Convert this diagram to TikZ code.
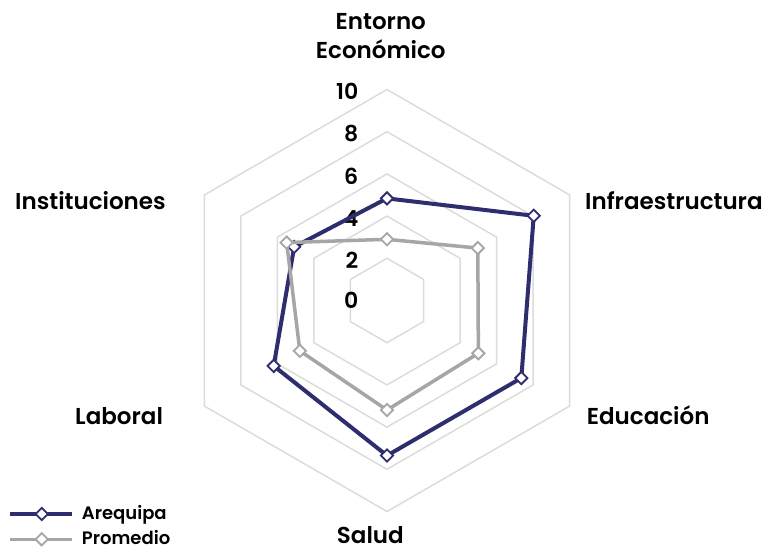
\documentclass[tikz,border=0pt]{standalone}
\usepackage{fontspec}
\setmainfont{Poppins}[BoldFont={Poppins SemiBold}]
\usetikzlibrary{shapes.geometric}
\definecolor{navy}{HTML}{2E2D6E}
\definecolor{avg}{HTML}{A6A6A6}
\definecolor{gridc}{HTML}{DCDCDC}
\tikzset{
  gridline/.style={draw=gridc, line width=1.5},
  serA/.style={draw=navy, line width=4, line join=round},
  serB/.style={draw=avg, line width=3.5, line join=round},
  mkA/.style={diamond, draw=navy, fill=white, line width=1.8, minimum width=13, minimum height=13, inner sep=0},
  mkB/.style={diamond, draw=avg, fill=white, line width=1.8, minimum width=13, minimum height=13, inner sep=0},
  axlabel/.style={font=\bfseries\fontsize{23}{28.3}\selectfont, inner sep=0, text=black},
  numlabel/.style={font=\bfseries\fontsize{22}{24}\selectfont, inner sep=0, text=black, anchor=east},
  leglabel/.style={font=\bfseries\fontsize{18}{18}\selectfont, inner sep=0, text=black, anchor=base west},
}
\begin{document}
\begin{tikzpicture}[x=1pt,y=-1pt]
\useasboundingbox[fill=white] (0,0) rectangle (766,551);
\coordinate (O) at (387,300.5);
% grid hexagons
\foreach \r in {2,4,6,8,10}{
  \draw[gridline, shift={(O)}] (-90:\r*21.1) -- (-30:\r*21.1) -- (30:\r*21.1) -- (90:\r*21.1) -- (150:\r*21.1) -- (210:\r*21.1) -- cycle;
}
% axis numbers
\node[numlabel] (n10) at (358.5,91.7) {10};
\node[numlabel] (n8) at (358.5,134) {8};
\node[numlabel] (n6) at (358.5,176.7) {6};
\node[numlabel] (n4) at (358.5,219) {4};
\node[numlabel] (n2) at (358.5,260) {2};
\node[numlabel] (n0) at (358.5,300.7) {0};
% Arequipa
\path[shift={(O)}]
  (-90:4.84*21.1) coordinate (a1)
  (-30:8.03*21.1) coordinate (a2)
  (30:7.35*21.1) coordinate (a3)
  (90:7.35*21.1) coordinate (a4)
  (150:6.2*21.1) coordinate (a5)
  (210:5.08*21.1) coordinate (a6);
\draw[serA] (a1) -- (a2) -- (a3) -- (a4) -- (a5) -- (a6) -- cycle;
\foreach \i in {1,...,6}{ \node[mkA] (ma\i) at (a\i) {}; }
% Promedio
\path[shift={(O)}]
  (-90:2.9*21.1) coordinate (b1)
  (-30:4.97*21.1) coordinate (b2)
  (30:5.0*21.1) coordinate (b3)
  (90:5.19*21.1) coordinate (b4)
  (150:4.77*21.1) coordinate (b5)
  (210:5.49*21.1) coordinate (b6);
\draw[serB] (b1) -- (b2) -- (b3) -- (b4) -- (b5) -- (b6) -- cycle;
\foreach \i in {1,...,6}{ \node[mkB] (mb\i) at (b\i) {}; }
% axis labels
\node[axlabel, align=center, anchor=south, text depth=0pt] (lEnt) at (380.8,58.3) {Entorno\\Económico};
\node[axlabel, anchor=base west] (lInf) at (585,209.3) {Infraestructura};
\node[axlabel, anchor=base west] (lIns) at (15,209.3) {Instituciones};
\node[axlabel, anchor=base west] (lLab) at (75,424.3) {Laboral};
\node[axlabel, anchor=base west] (lEdu) at (586.7,424.3) {Educación};
\node[axlabel, anchor=base west] (lSal) at (336.7,543.3) {Salud};
% legend
\coordinate (la1) at (10,514);
\coordinate (la2) at (72,514);
\coordinate (lb1) at (10,539.3);
\coordinate (lb2) at (72,539.3);
\draw[serA] (la1) -- (la2);
\node[mkA] (lma) at (41.7,514) {};
\draw[serB] (lb1) -- (lb2);
\node[mkB] (lmb) at (41.7,539.3) {};
\node[leglabel] (tA) at (81.7,519.3) {Arequipa};
\node[leglabel] (tB) at (81.7,544.3) {Promedio};
\end{tikzpicture}
\end{document}
